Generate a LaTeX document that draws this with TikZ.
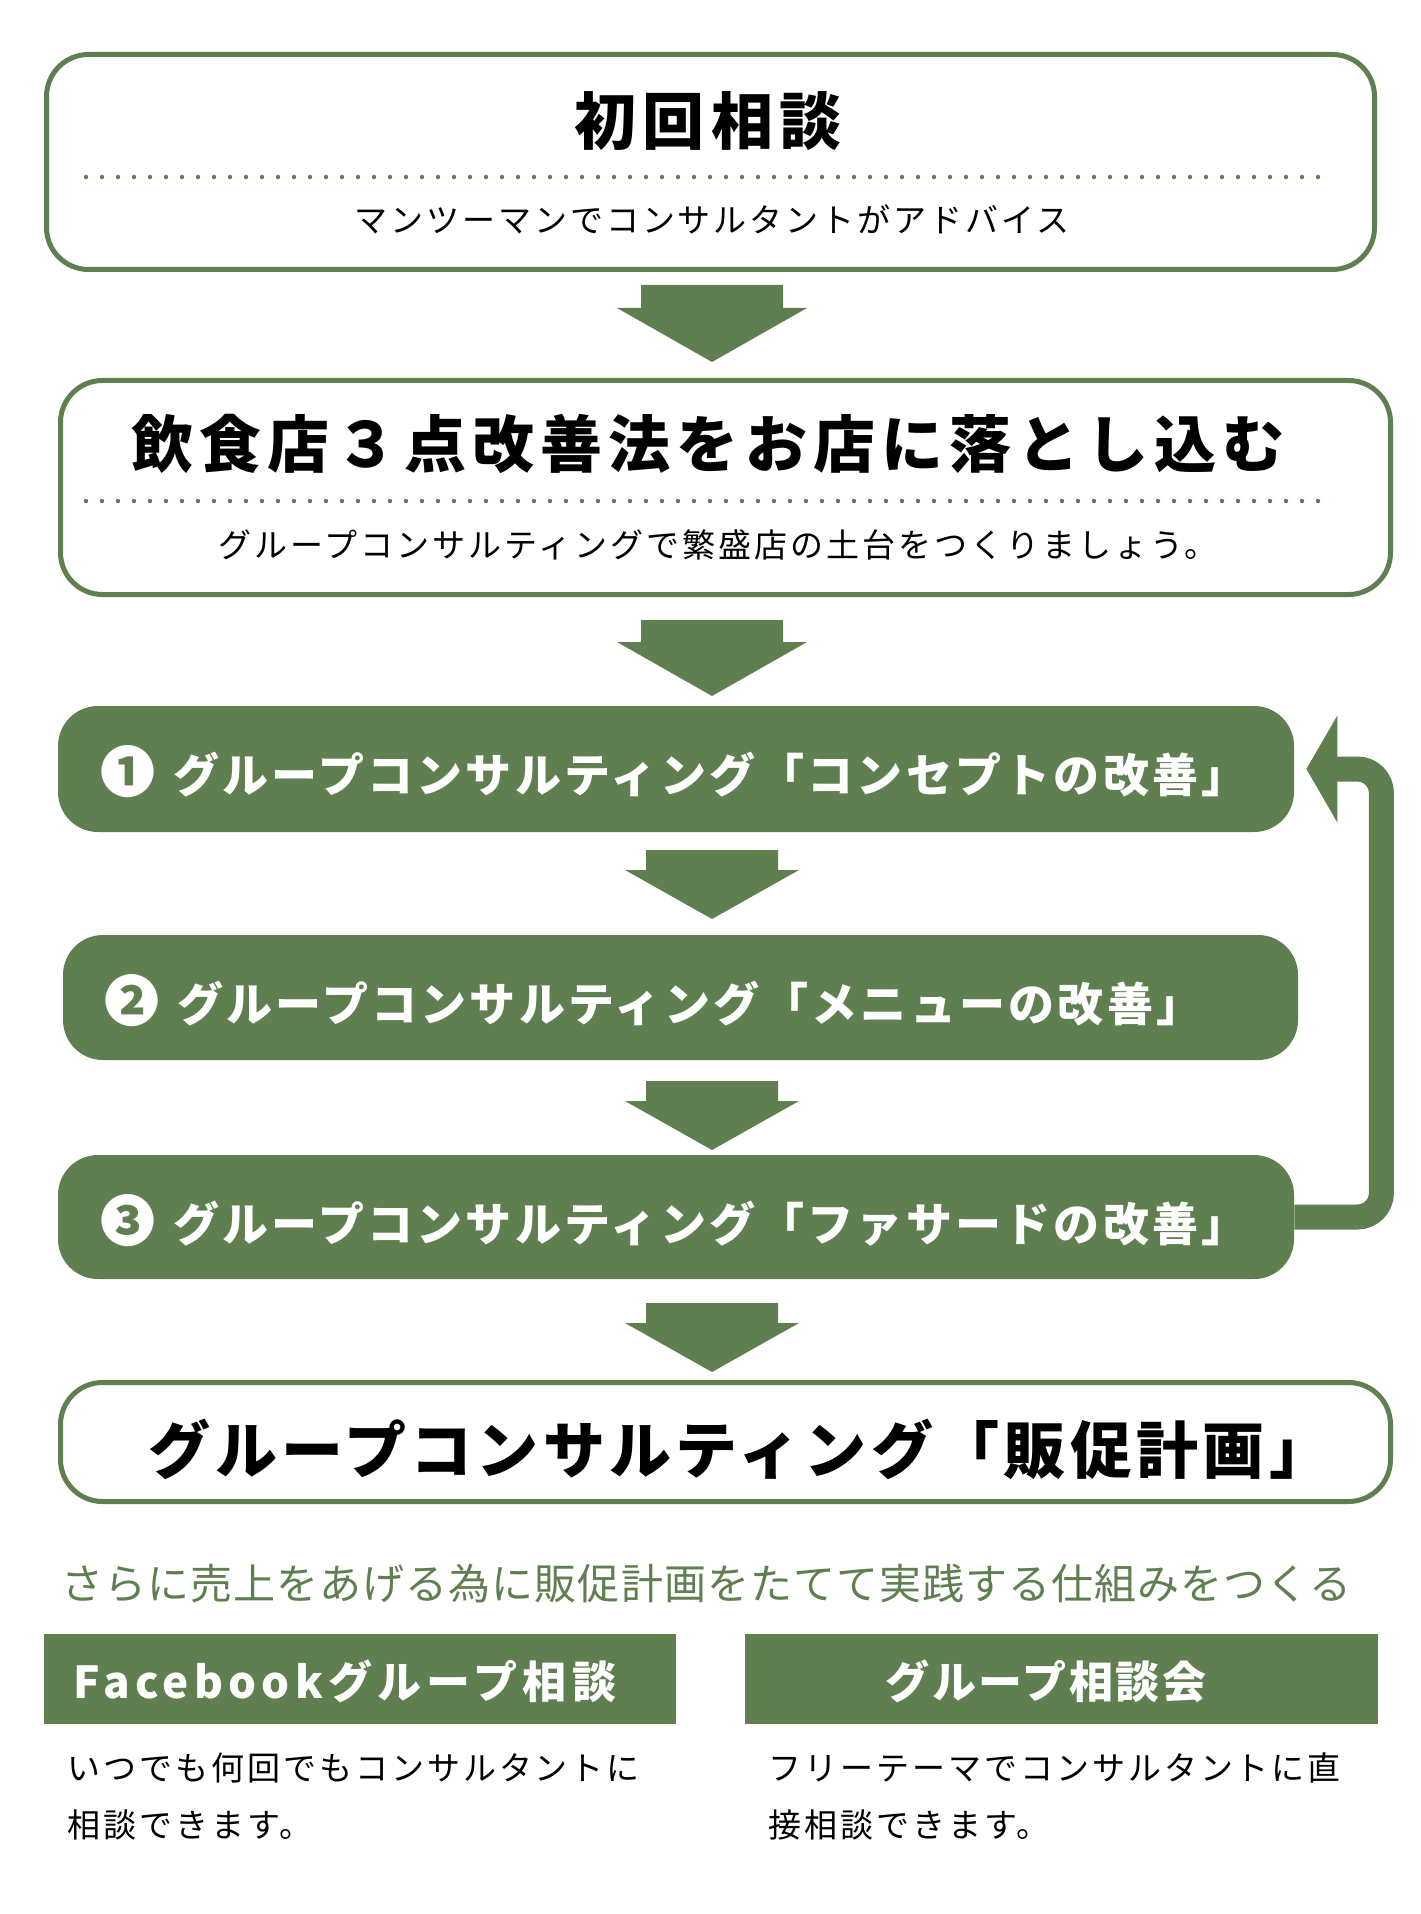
\documentclass[tikz,border=0pt]{standalone}
\usepackage{fontspec}
\setmainfont{Noto Sans CJK JP}
\usetikzlibrary{arrows.meta}
\definecolor{leaf}{RGB}{96,127,80}
\tikzset{
  outlinebox/.style={draw=leaf, line width=2.5pt, rounded corners=21pt, fill=white},
  greenbox/.style={fill=leaf, rounded corners=20pt},
  headbox/.style={fill=leaf},
  bigtitle/.style={inner sep=0pt, font=\fontsize{31pt}{36pt}\selectfont\bfseries\addfontfeature{LetterSpace=10}},
  subtext/.style={inner sep=0pt, font=\fontsize{16.5pt}{28.5pt}\selectfont\addfontfeature{LetterSpace=9}},
  steptext/.style={inner sep=0pt, anchor=west, text=white, font=\fontsize{23pt}{28pt}\selectfont\bfseries\addfontfeature{LetterSpace=7}},
  headtext/.style={inner sep=0pt, text=white, font=\fontsize{22pt}{26pt}\selectfont\bfseries\addfontfeature{LetterSpace=6}},
  dotline/.style={leaf, line width=2.2pt, line cap=round, dash pattern=on 0pt off 8pt},
  feedback/.style={draw=leaf, line width=12.5pt, rounded corners=12pt, -{Triangle[length=15.5pt,width=53pt]}}
}
\newcommand{\stepno}[1]{{\fontsize{27.5pt}{28pt}\selectfont #1}}
\begin{document}
\begin{tikzpicture}[x=0.5pt, y=-0.5pt]
  \useasboundingbox (0,0) rectangle (1420,1914);

  % first meeting
  \node[outlinebox, minimum width=664pt, minimum height=107.5pt] (consult) at (710.5,162) {};
  \node[bigtitle] (consulttitle) at (708,121) {初回相談};
  \draw[dotline] (86,177) -- (1327,177);
  \node[subtext] (consultsub) at (712,219) {マンツーマンでコンサルタントがアドバイス};

  % method
  \node[outlinebox, minimum width=665pt, minimum height=107pt] (method) at (725.5,487.5) {};
  \node[bigtitle] (methodtitle) at (708,444) {飲食店３点改善法をお店に落とし込む};
  \draw[dotline] (86,501) -- (1327,501);
  \node[subtext] (methodsub) at (718,545) {グループコンサルティングで繁盛店の土台をつくりましょう。};

  % three steps
  \node[greenbox, minimum width=618pt, minimum height=63pt] (step1) at (676,769) {};
  \node[greenbox, minimum width=617.5pt, minimum height=62.5pt] (step2) at (680.5,997.5) {};
  \node[greenbox, minimum width=618pt, minimum height=62pt] (step3) at (676,1217) {};
  \node[steptext] (step1text) at (100,772) {\stepno{❶}\hspace{9pt}グループコンサルティング「コンセプトの改善」};
  \node[steptext] (step2text) at (104,1001) {\stepno{❷}\hspace{9pt}グループコンサルティング「メニューの改善」};
  \node[steptext] (step3text) at (100,1221) {\stepno{❸}\hspace{9pt}グループコンサルティング「ファサードの改善」};

  \draw[feedback] (step3.east) -- ++(87,0) |- ([xshift=6pt]step1.east);

  % promotion
  \node[outlinebox, minimum width=665pt, minimum height=59.5pt] (promo) at (725.5,1442) {};
  \node[bigtitle, font=\fontsize{31pt}{36pt}\selectfont\bfseries\addfontfeature{LetterSpace=7}] (promotitle) at (740,1449) {グループコンサルティング「販促計画」};

  % block arrows
  \foreach \yt/\sw/\hw/\sl/\hl in {285/71/95/23/54, 620/71/95/22/54, 850/66/87/20/49, 1081/66/87/20/49, 1303/66/87/20/49}
    \fill[leaf] ({712-\sw},\yt) -- ({712+\sw},\yt) -- ({712+\sw},{\yt+\sl}) -- ({712+\hw},{\yt+\sl})
      -- (712,{\yt+\sl+\hl}) -- ({712-\hw},{\yt+\sl}) -- ({712-\sw},{\yt+\sl}) -- cycle;

  % bottom part
  \node[inner sep=0pt, anchor=west, text=leaf, font=\fontsize{21pt}{26pt}\selectfont\addfontfeature{LetterSpace=2.5}] (tagline) at (61,1584)
    {さらに売上をあげる為に販促計画をたてて実践する仕組みをつくる};

  \node[headbox, minimum width=316pt, minimum height=45pt] (fbhead) at (360,1679) {};
  \node[headbox, minimum width=316.5pt, minimum height=45pt] (meethead) at (1061.5,1679) {};
  \node[headtext, anchor=west, font=\fontsize{22pt}{26pt}\selectfont\bfseries\addfontfeature{LetterSpace=12}] (fbtitle) at (73,1681) {Facebookグループ相談};
  \node[headtext] (meettitle) at (1046,1681) {グループ相談会};

  \node[subtext, anchor=north west, align=left] (fbbody) at (67,1752) {いつでも何回でもコンサルタントに\\相談できます。};
  \node[subtext, anchor=north west, align=left] (meetbody) at (768,1752) {フリーテーマでコンサルタントに直\\接相談できます。};
\end{tikzpicture}
\end{document}
